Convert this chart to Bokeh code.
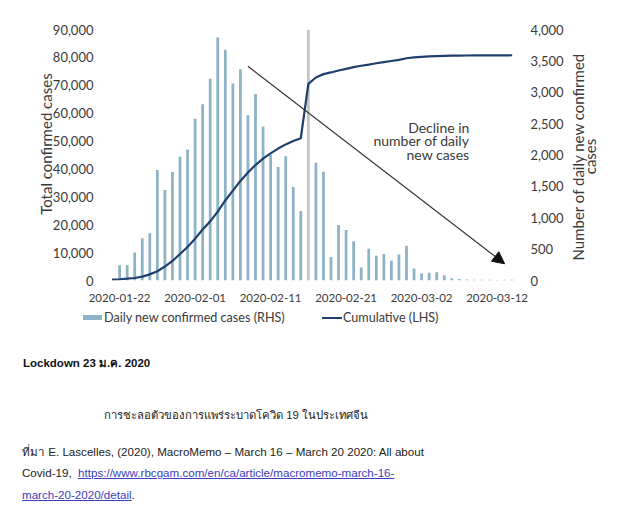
import math
import pandas as pd
from bokeh.plotting import figure
from bokeh.models import (Range1d, LinearAxis, FixedTicker, NumeralTickFormatter,
                          DatetimeTickFormatter, Arrow, NormalHead, ColumnDataSource, Div)
from bokeh.layouts import column
from bokeh.embed import file_html
from bokeh.resources import INLINE
from bokeh.core.properties import value

# ---------------- data ----------------
BAR_START = "2020-01-22"
daily_new_cases = [242, 242, 448, 675, 754, 1760, 1444, 1728, 1971, 2087,
                   2577, 2809, 3217, 3878, 3679, 3141, 3368, 2635, 2972, 2456,
                   2000, 1808, 1982, 1491, 1107, 19600, 1876, 1734, 374, 885,
                   806, 627, 206, 506, 395, 422, 316, 416, 555, 190,
                   110, 125, 130, 85, 35, 25, 15, 12, 10, 10,
                   8, 10, 12]
LINE_START = "2020-01-21"
cumulative_cases = [300, 450, 650, 900, 1400, 2200, 3300, 5000, 7000, 9500,
                    12000, 15000, 18300, 21200, 24700, 28700, 32200, 35700, 38700, 41400,
                    43700, 45600, 47300, 48800, 50000, 51000, 70500, 72800, 74000, 74600,
                    75300, 75900, 76500, 77000, 77400, 77900, 78300, 78700, 79100, 79700,
                    80000, 80200, 80350, 80450, 80550, 80600, 80650, 80680, 80700, 80720,
                    80730, 80740, 80750, 80760]
x_tick_labels = ["2020-01-22", "2020-02-01", "2020-02-11", "2020-02-21", "2020-03-02", "2020-03-12"]
lhs_ticks = [0, 10000, 20000, 30000, 40000, 50000, 60000, 70000, 80000, 90000]
rhs_ticks = [0, 500, 1000, 1500, 2000, 2500, 3000, 3500, 4000]
LHS_MAX = 90000
RHS_MAX = 4000

series_names = ["Daily new confirmed cases (RHS)", "Cumulative (LHS)"]
y_title_left = "Total confirmed cases"
y_title_right = ["Number of daily new confirmed", "cases"]
note_lines = ["Decline in", "number of daily", "new cases"]
arrow_from = ("2020-02-08", 76800)
arrow_to = ("2020-03-13", 6000)
note_anchor = ("2020-03-08 08:00", 55000)

lockdown_text = "Lockdown 23 ม.ค. 2020"
caption_text = "การชะลอตัวของการแพร่ระบาดโควิด 19 ในประเทศจีน"
source_line1 = "ที่มา E. Lascelles, (2020), MacroMemo – March 16 – March 20 2020: All about"
source_line2_a = "Covid-19,"
source_link_a = "https://www.rbcgam.com/en/ca/article/macromemo-march-16-"
source_link_b = "march-20-2020/detail"
source_tail = "."

# ---------------- styles / layout (page pixels) ----------------
FONT = "Lato"
BAR_BLUE = "#8fb3c6"
BAR_GRAY = "#c4c4c4"
LINE_NAVY = "#1f3f6c"
TXT = "#3a3a3a"
LINK = "#3c3cc0"
DAY_MS = 86400000.0

W, H1, H2 = 612, 304, 212
PLOT_L, PLOT_R = 105, 518            # visible plotting area (where the axes sit)
FRAME_L, FRAME_R, FRAME_T, FRAME_B = 30, 605, 29, 282   # drawing frame (wider, for the titles)
LAST_BAR_PX = 511.7
PX_PER_DAY = 7.55


def ms(d):
    return pd.Timestamp(d).value / 1e6


bar_dates = pd.date_range(BAR_START, periods=len(daily_new_cases), freq="D")
line_dates = pd.date_range(LINE_START, periods=len(cumulative_cases), freq="D")
bar_colors = [BAR_GRAY if v > RHS_MAX else BAR_BLUE for v in daily_new_cases]

bar_src = ColumnDataSource(dict(x=bar_dates, top=daily_new_cases, color=bar_colors))
line_src = ColumnDataSource(dict(x=line_dates, y=cumulative_cases))

x_end = ms(bar_dates[-1]) + (FRAME_R - LAST_BAR_PX) / PX_PER_DAY * DAY_MS
x_start = x_end - (FRAME_R - FRAME_L) / PX_PER_DAY * DAY_MS

p = figure(width=W, height=H1, x_axis_type="datetime",
           x_range=Range1d(x_start, x_end), y_range=Range1d(0, LHS_MAX),
           output_backend="svg", toolbar_location=None,
           min_border_left=FRAME_L, min_border_right=W - FRAME_R,
           min_border_top=FRAME_T, min_border_bottom=H1 - FRAME_B)
p.extra_y_ranges = {"rhs": Range1d(0, RHS_MAX), "page_y": Range1d(FRAME_B, FRAME_T)}
p.extra_x_ranges = {"page_x": Range1d(FRAME_L, FRAME_R)}
p.outline_line_color = None
p.grid.visible = False

bars = p.vbar(x="x", top="top", width=0.37 * DAY_MS, fill_color="color", line_color=None,
              y_range_name="rhs", source=bar_src)
line = p.line(x="x", y="y", line_color=LINE_NAVY, line_width=2.2, source=line_src)

rax = LinearAxis(y_range_name="rhs")
p.add_layout(rax, "right")

for ax in [p.yaxis[0], rax]:
    ax.axis_line_color = None
    ax.major_tick_line_color = None
    ax.minor_tick_line_color = None
    ax.major_label_text_font = FONT
    ax.major_label_text_font_size = "13px"
    ax.major_label_text_color = TXT
    ax.formatter = NumeralTickFormatter(format="0,0")

lax = p.yaxis[0]
lax.ticker = FixedTicker(ticks=lhs_ticks)
lax.major_label_standoff = -(PLOT_L - FRAME_L) + 6
rax.ticker = FixedTicker(ticks=rhs_ticks)
rax.major_label_standoff = -(FRAME_R - PLOT_R) + 6

xa = p.xaxis[0]
xa.ticker = FixedTicker(ticks=[ms(t) for t in x_tick_labels])
fmt = "%Y-%m-%d"
xa.formatter = DatetimeTickFormatter(days=fmt, months=fmt, years=fmt, hours=fmt,
                                     hourmin=fmt, minutes=fmt, minsec=fmt, seconds=fmt,
                                     milliseconds=fmt, microseconds=fmt)
xa.axis_line_color = None
xa.major_tick_line_color = None
xa.minor_tick_line_color = None
xa.major_label_text_font = FONT
xa.major_label_text_font_size = "11.5px"
xa.major_label_text_color = TXT
xa.major_label_standoff = 7

# axis titles (rotated, reading bottom to top)
p.text(x=[45], y=[144.5], text=[y_title_left], angle=math.pi / 2,
       x_range_name="page_x", y_range_name="page_y",
       text_align="center", text_baseline="middle",
       text_font=value(FONT), text_font_size="15px", text_color=TXT)
p.text(x=[577, 589.5], y=[157, 157], text=y_title_right, angle=math.pi / 2,
       x_range_name="page_x", y_range_name="page_y",
       text_align="center", text_baseline="middle",
       text_font=value(FONT), text_font_size="15px", text_color=TXT)

# arrow + note
p.add_layout(Arrow(end=NormalHead(size=12, fill_color="#111111", line_color="#111111"),
                   x_start=ms(arrow_from[0]), y_start=arrow_from[1],
                   x_end=ms(arrow_to[0]), y_end=arrow_to[1],
                   line_color="#333333", line_width=1.2))
p.text(x=[ms(note_anchor[0])] * len(note_lines), y=[note_anchor[1]] * len(note_lines),
       text=note_lines, y_offset=[0, 13.7, 27.4],
       text_align="right", text_baseline="middle",
       text_font=value(FONT), text_font_size="14px", text_color=TXT)

# ---------------- legend + text block below the chart ----------------
TF = "'Liberation Sans', Arial, sans-serif"
Y0 = H1  # top of the block, in page pixels


def abs_div(left, center_y, inner, size, extra="", lh=16):
    return (f'<div style="position:absolute;left:{left}px;top:{center_y - Y0 - lh / 2}px;'
            f'line-height:{lh}px;font-size:{size};white-space:nowrap;{extra}">{inner}</div>')


def swatch(left, center_y, w, h, color):
    return (f'<div style="position:absolute;left:{left}px;top:{center_y - Y0 - h / 2}px;'
            f'width:{w}px;height:{h}px;background:{color};"></div>')


leg_font = f"font-family:{FONT},sans-serif;color:{TXT};"
link_style = f"color:{LINK};text-decoration:underline;"
href = source_link_a + source_link_b
html = (f'<div style="position:relative;width:{W}px;height:{H2}px;font-family:{TF};color:#222222;">'
        + swatch(83, 317.7, 19, 5, BAR_BLUE)
        + abs_div(104, 317.7, series_names[0], "12.6px", leg_font, 18)
        + swatch(322, 317.7, 20, 2, LINE_NAVY)
        + abs_div(343, 317.7, series_names[1], "12.6px", leg_font, 18)
        + abs_div(23, 362.7, lockdown_text, "11.5px", "font-weight:bold;color:#111111;")
        + abs_div(0, 415, caption_text, "11.3px", "width:472px;text-align:center;")
        + abs_div(22, 451.7, source_line1, "11.6px")
        + abs_div(22, 473.3, f'{source_line2_a}&nbsp; <a href="{href}" style="{link_style}">{source_link_a}</a>', "11.6px")
        + abs_div(22, 495, f'<a href="{href}" style="{link_style}">{source_link_b}</a>{source_tail}', "11.6px")
        + '</div>')
notes = Div(text=html, width=W, height=H2, margin=(0, 0, 0, 0))

layout = column(p, notes, spacing=0)
open("out.html", "w").write(file_html(layout, INLINE))
